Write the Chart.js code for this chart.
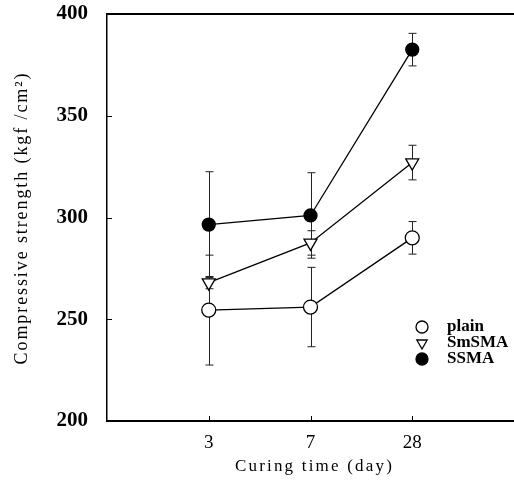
<!DOCTYPE html>
<html>
<head>
<meta charset="utf-8">
<script src="https://cdn.jsdelivr.net/npm/chart.js@4"></script>
<style>
  html, body { margin: 0; padding: 0; background: #fff; }
  canvas { display: block; }
</style>
</head>
<body>
<canvas id="strengthChart" width="514" height="488"></canvas>
<script>
// curing ages (days), placed at x = 1, 2, 3 on a 0..4 axis
const curingDays = ['3', '7', '28'];
const seriesNames = ['plain', 'SmSMA', 'SSMA'];

// compressive strength, kgf/cm2
const plainMean = [254.5, 256, 290];
const plainErr = [27, 19.5, 8];
const smsmaMean = [268, 287.5, 327];
const smsmaErr = [3, 6, 8.5];
const ssmaMean = [296.5, 301, 382.5];
const ssmaErr = [26, 21, 8];

const yTicks = [200, 250, 300, 350, 400];

function toPoints(vals) {
    return vals.map(function (v, i) { return {x: i + 1, y: v}; });
}

//error bars behind the markers
const errorBars = {
    id: 'errorBars',
    beforeDatasetsDraw(chart) {
        const ctx = chart.ctx, x = chart.scales.x, y = chart.scales.y;
        ctx.save();
        ctx.strokeStyle = '#222';
        ctx.lineWidth = 1;
        chart.data.datasets.forEach(function (ds) {
            ds.data.forEach(function (p, i) {
                const px = Math.round(x.getPixelForValue(p.x)) + 0.5;
                const top = y.getPixelForValue(p.y + ds.errors[i]);
                const bot = y.getPixelForValue(p.y - ds.errors[i]);
                ctx.beginPath();
                ctx.moveTo(px, top);
                ctx.lineTo(px, bot);
                ctx.moveTo(px - 4, top);
                ctx.lineTo(px + 4, top);
                ctx.moveTo(px - 4, bot);
                ctx.lineTo(px + 4, bot);
                ctx.stroke();
            });
        });
        ctx.restore();
    }
};

//frame top line, inward ticks, axis titles and legend
const frameAndLegend = {
    id: 'frameAndLegend',
    afterDraw(chart) {
        const ctx = chart.ctx, area = chart.chartArea;
        const x = chart.scales.x, y = chart.scales.y;
        ctx.save();
        ctx.strokeStyle = '#000';
        ctx.lineWidth = 2;
        ctx.beginPath();
        ctx.moveTo(area.left, area.top);
        ctx.lineTo(area.right, area.top);
        ctx.stroke();

        ctx.lineWidth = 1;
        ctx.beginPath();
        [250, 300, 350].forEach(function (v) {
            const py = Math.round(y.getPixelForValue(v)) + 0.5;
            ctx.moveTo(area.left, py);
            ctx.lineTo(area.left + 5, py);
        });
        [1, 2, 3].forEach(function (v) {
            const px = Math.round(x.getPixelForValue(v)) + 0.5;
            ctx.moveTo(px, area.bottom);
            ctx.lineTo(px, area.bottom - 5);
        });
        ctx.stroke();

        ctx.fillStyle = '#000';
        ctx.font = '17px "Liberation Serif", "Times New Roman", serif';
        ctx.letterSpacing = '2.2px';
        ctx.textAlign = 'center';
        ctx.textBaseline = 'middle';
        ctx.fillText('Curing time (day)', x.getPixelForValue(2) + 4, 467);

        ctx.save();
        ctx.translate(22, 218);
        ctx.rotate(-Math.PI / 2);
        ctx.font = '18px "Liberation Serif", "Times New Roman", serif';
        ctx.letterSpacing = '1.9px';
        ctx.fillText('Compressive strength (kgf /cm\u00b2)', 0, 0);
        ctx.restore();

        // legend
        ctx.letterSpacing = '0px';
        ctx.font = 'bold 17px "Liberation Serif", "Times New Roman", serif';
        ctx.textAlign = 'left';
        chart.data.datasets.forEach(function (ds, i) {
            const ly = 327 + i * 16;
            ctx.fillStyle = ds.pointBackgroundColor;
            ctx.strokeStyle = '#000';
            ctx.lineWidth = 1.3;
            Chart.helpers.drawPoint(ctx, {
                pointStyle: ds.pointStyle,
                radius: 6,
                rotation: ds.pointRotation || 0,
                borderWidth: 1.3
            }, 422, ly);
            ctx.fillStyle = '#000';
            ctx.fillText(ds.label, 447, ly);
        });
        ctx.restore();
    }
};

function series(label, mean, err, style, fill, rot, radius) {
    return {
        label: label,
        data: toPoints(mean),
        errors: err,
        borderColor: '#000',
        borderWidth: 1.3,
        pointStyle: style,
        pointRotation: rot,
        pointRadius: radius,
        pointBackgroundColor: fill,
        pointBorderColor: '#000',
        pointBorderWidth: 1.3,
        tension: 0
    };
}

const strengthChart = new Chart(document.getElementById('strengthChart'), {
    type: 'line',
    data: {
        datasets: [
            series(seriesNames[0], plainMean, plainErr, 'circle', '#fff', 0, 7),
            series(seriesNames[1], smsmaMean, smsmaErr, 'triangle', '#fff', 180, 7.5),
            series(seriesNames[2], ssmaMean, ssmaErr, 'circle', '#000', 0, 6.5)
        ]
    },
    options: {
        responsive: false,
        animation: false,
        layout: {autoPadding: false, padding: {top: 14, right: 0, left: 0, bottom: 0}},
        plugins: {legend: {display: false}, tooltip: {enabled: false}},
        scales: {
            x: {
                type: 'linear',
                min: 0,
                max: 4,
                afterBuildTicks: function (scale) {
                    scale.ticks = [1, 2, 3].map(function (v) { return {value: v}; });
                },
                afterFit: function (scale) {
                    scale.height = 67;
                    scale.paddingLeft = 0;
                    scale.paddingRight = 0;
                },
                grid: {display: false},
                border: {display: true, color: '#000', width: 2},
                ticks: {
                    color: '#000',
                    padding: 3,
                    maxRotation: 0,
                    font: {family: '"Liberation Serif", serif', size: 19},
                    callback: function (v) { return curingDays[v - 1]; }
                }
            },
            y: {
                min: 200,
                max: 400,
                afterBuildTicks: function (scale) {
                    scale.ticks = yTicks.map(function (v) { return {value: v}; });
                },
                afterFit: function (scale) {
                    scale.width = 107;
                    scale.paddingTop = 0;
                    scale.paddingBottom = 0;
                },
                grid: {display: false},
                border: {display: true, color: '#000', width: 1.5},
                ticks: {
                    color: '#000',
                    padding: 11,
                    font: {family: '"Liberation Serif", serif', size: 21, weight: 'bold'}
                }
            }
        }
    },
    plugins: [errorBars, frameAndLegend]
});
</script>
</body>
</html>
